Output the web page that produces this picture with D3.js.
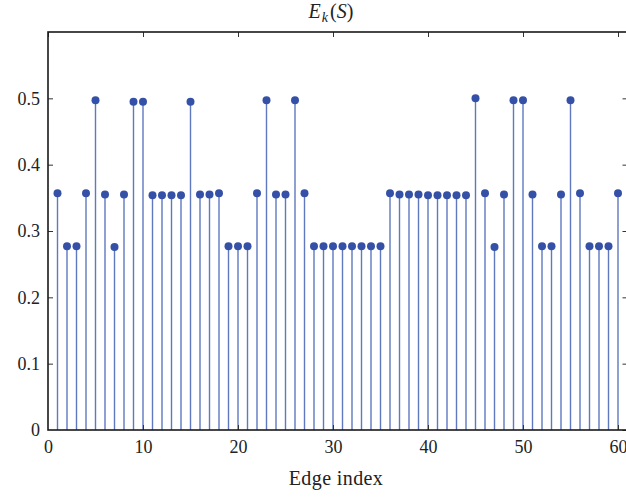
<!DOCTYPE html>
<html>
<head>
<meta charset="utf-8">
<script src="https://cdn.jsdelivr.net/npm/d3@7"></script>
<style>
    body { margin: 0; background: #fff; }
    text { font-family: "Liberation Serif", "DejaVu Serif", serif; fill: #222; }
</style>
</head>
<body>
<svg id="chart" width="626" height="498"></svg>
<script>
// Edge indices 1..60 and E_k(S) values
const edges = d3.range(1, 61);
const energy = [
    0.357, 0.277, 0.277, 0.357, 0.497, 0.355, 0.276, 0.355, 0.495, 0.495,
    0.354, 0.354, 0.354, 0.354, 0.495, 0.355, 0.355, 0.357, 0.277, 0.277,
    0.277, 0.357, 0.497, 0.355, 0.355, 0.497, 0.357, 0.277, 0.277, 0.277,
    0.277, 0.277, 0.277, 0.277, 0.277, 0.357, 0.355, 0.355, 0.355, 0.354,
    0.354, 0.354, 0.354, 0.354, 0.500, 0.357, 0.276, 0.355, 0.497, 0.497,
    0.355, 0.277, 0.277, 0.355, 0.497, 0.357, 0.277, 0.277, 0.277, 0.357
];
const xTicks = [0, 10, 20, 30, 40, 50, 60];
const yTicks = [0, 0.1, 0.2, 0.3, 0.4, 0.5];

const svg = d3.select("#chart");
const plotLeft = 48, plotTop = 32, plotBottom = 430;

const x = d3.scaleLinear().domain([0, 61]).range([plotLeft, plotLeft + 61 * 9.5]);
const y = d3.scaleLinear().domain([0, 0.6]).range([plotBottom, plotTop]);
const plotRight = x(61);

// Stems
svg.selectAll(".stem")
    .data(edges)
    .enter().append("line")
    .attr("class", "stem")
    .attr("x1", d => x(d))
    .attr("x2", d => x(d))
    .attr("y1", y(0))
    .attr("y2", (d, i) => y(energy[i]))
    .style("stroke", "#5f78c0")
    .style("stroke-width", 1.4);

// Markers
svg.selectAll(".dot")
    .data(edges)
    .enter().append("circle")
    .attr("class", "dot")
    .attr("cx", d => x(d))
    .attr("cy", (d, i) => y(energy[i]))
    .attr("r", 4)
    .style("fill", "#3551a7");

// Axes with inward ticks
const tick = 5;
const bottomAxis = svg.append("g").attr("transform", `translate(0,${plotBottom})`)
    .call(d3.axisBottom(x).tickValues(xTicks).tickSize(-tick).tickPadding(10).tickFormat(d3.format("d")));
const topAxis = svg.append("g").attr("transform", `translate(0,${plotTop})`)
    .call(d3.axisTop(x).tickValues(xTicks).tickSize(-tick).tickFormat(""));
const leftAxis = svg.append("g").attr("transform", `translate(${plotLeft},0)`)
    .call(d3.axisLeft(y).tickValues(yTicks).tickSize(-tick).tickPadding(8)
        .tickFormat(d => d === 0 ? "0" : d3.format(".1f")(d)));
const rightAxis = svg.append("g").attr("transform", `translate(${plotRight},0)`)
    .call(d3.axisRight(y).tickValues(yTicks).tickSize(-tick).tickFormat(""));

[bottomAxis, topAxis, leftAxis, rightAxis].forEach(g => {
    g.select(".domain").remove();
    g.selectAll(".tick line").style("stroke", "#333").style("stroke-width", 1);
    g.selectAll("text").style("font-size", "18px").style("fill", "#222")
        .style("font-family", '"Liberation Serif", serif');
});
bottomAxis.selectAll(".tick").filter(d => d === 0).select("line").remove();
leftAxis.selectAll(".tick").filter(d => d === 0).select("line").remove();

// Frame
svg.append("rect")
    .attr("x", plotLeft).attr("y", plotTop)
    .attr("width", plotRight - plotLeft).attr("height", plotBottom - plotTop)
    .style("fill", "none")
    .style("stroke", "#1a1a1a")
    .style("stroke-width", 1.6);

// Title and label
const title = svg.append("text")
    .attr("x", 331)
    .attr("y", 18)
    .attr("text-anchor", "middle")
    .style("font-size", "20px")
    .style("font-style", "italic");
title.append("tspan").text("E");
title.append("tspan").text("k").attr("dy", 4).attr("dx", 1).style("font-size", "14px");
title.append("tspan").text("(").attr("dy", -4).attr("dx", 2).style("font-style", "normal");
title.append("tspan").text("S");
title.append("tspan").text(")").style("font-style", "normal");

svg.append("text")
    .attr("x", 336)
    .attr("y", 485)
    .attr("text-anchor", "middle")
    .style("font-size", "20px")
    .style("letter-spacing", "0.4px")
    .text("Edge index");
</script>
</body>
</html>
